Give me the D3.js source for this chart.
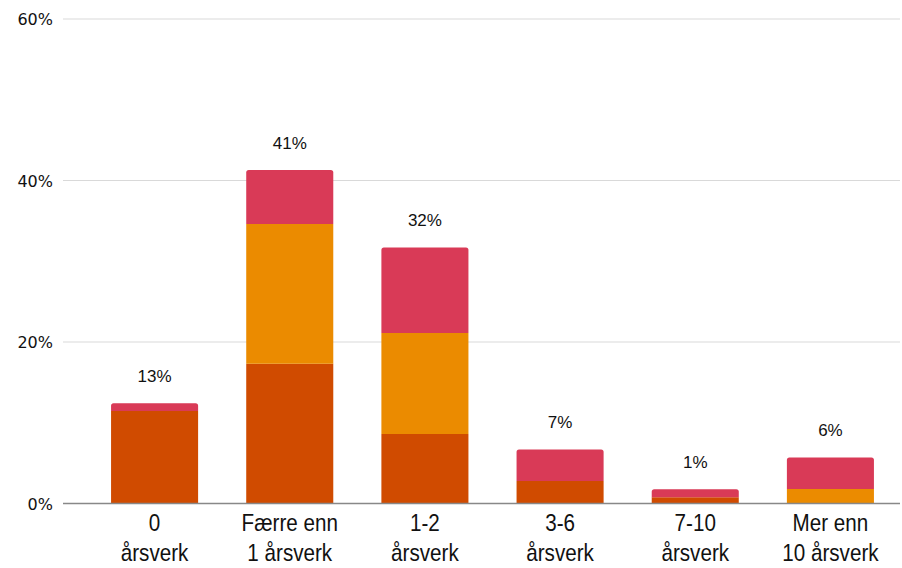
<!DOCTYPE html>
<html>
<head>
<meta charset="utf-8">
<script src="https://cdn.jsdelivr.net/npm/d3@7"></script>
<style>
  html, body { margin: 0; padding: 0; background: #fff; }
  svg { display: block; }
</style>
</head>
<body>
<svg id="chart" width="902" height="568"></svg>
<script>
// Categories (two-line axis labels)
const categories = [
  ["0", "årsverk"],
  ["Færre enn", "1 årsverk"],
  ["1-2", "årsverk"],
  ["3-6", "årsverk"],
  ["7-10", "årsverk"],
  ["Mer enn", "10 årsverk"]
];

// Stacked segments, in percent (bottom to top)
const seriesDark   = [11.45, 17.3, 8.6, 2.8, 0.77, 0];
const seriesOrange = [0,     17.3, 12.5, 0,  0,    1.8];
const seriesRed    = [0.95,  6.7,  10.6, 3.9, 0.99, 3.9];

// Total labels shown above each stack
const totalLabels = ["13%", "41%", "32%", "7%", "1%", "6%"];

// Y axis ticks
const yTicks = [0, 20, 40, 60];

const seriesList = [
  { key: "dark",   values: seriesDark,   color: "#d04b00" },
  { key: "orange", values: seriesOrange, color: "#eb8b00" },
  { key: "red",    values: seriesRed,    color: "#d93a57" }
];

const svg = d3.select("#chart");

const x = d3.scaleBand()
  .domain(d3.range(categories.length))
  .range([87, 898])
  .paddingInner(0.356)
  .paddingOuter(0.178);

const y = d3.scaleLinear().domain([0, 60]).range([503.5, 19]);

// Gridlines
svg.append("g")
  .selectAll("line")
  .data(yTicks.filter(d => d !== 0))
  .join("line")
  .attr("x1", 63).attr("x2", 900)
  .attr("y1", d => y(d)).attr("y2", d => y(d))
  .attr("stroke", "#d9d9d9")
  .attr("stroke-width", 1);

// Y tick labels
svg.append("g")
  .selectAll("text")
  .data(yTicks)
  .join("text")
  .attr("x", 53)
  .attr("y", d => y(d) + 6)
  .attr("text-anchor", "end")
  .attr("font-family", "'DejaVu Sans', sans-serif")
  .attr("font-size", 16)
  .attr("fill", "#111")
  .text(d => d + "%");

// Build stack data
const stackData = categories.map((c, i) => {
  const row = { i };
  seriesList.forEach(s => row[s.key] = s.values[i]);
  return row;
});
const stacked = d3.stack().keys(seriesList.map(s => s.key))(stackData);

// Index of the top-most non-empty segment per category
const topKey = stackData.map(row => {
  let k = null;
  seriesList.forEach(s => { if (row[s.key] > 0) k = s.key; });
  return k;
});

function segPath(d, rounded) {
  const x0 = x(d.data.i), w = x.bandwidth();
  const yTop = y(d[1]), yBot = y(d[0]);
  const h = yBot - yTop;
  const r = rounded ? Math.min(2.5, h / 2, w / 2) : 0;
  return `M${x0},${yBot}V${yTop + r}` +
    (r ? `Q${x0},${yTop} ${x0 + r},${yTop}` : "") +
    `H${x0 + w - r}` +
    (r ? `Q${x0 + w},${yTop} ${x0 + w},${yTop + r}` : "") +
    `V${yBot}Z`;
}

stacked.forEach((layer, li) => {
  svg.append("g")
    .selectAll("path")
    .data(layer.filter(d => d[1] - d[0] > 0))
    .join("path")
    .attr("fill", seriesList[li].color)
    .attr("d", d => segPath(d, topKey[d.data.i] === layer.key));
});

// Baseline
svg.append("line")
  .attr("x1", 63).attr("x2", 900)
  .attr("y1", y(0)).attr("y2", y(0))
  .attr("stroke", "#888")
  .attr("stroke-width", 1.5);

// Total labels
const totals = stackData.map(row => d3.sum(seriesList, s => row[s.key]));
svg.append("g")
  .selectAll("text")
  .data(totalLabels)
  .join("text")
  .attr("x", (d, i) => x(i) + x.bandwidth() / 2)
  .attr("y", (d, i) => y(totals[i]) - 21.5)
  .attr("text-anchor", "middle")
  .attr("font-family", "'Liberation Sans', Arial, sans-serif")
  .attr("font-size", 17)
  .attr("fill", "#111")
  .text(d => d);

// Category labels (horizontally condensed)
svg.append("g")
  .selectAll("g")
  .data(categories)
  .join("g")
  .attr("transform", (d, i) => `translate(${x(i) + x.bandwidth() / 2},0) scale(0.86,1)`)
  .each(function(lines) {
    const t = d3.select(this).append("text")
      .attr("text-anchor", "middle")
      .attr("font-family", "'Liberation Sans', Arial, sans-serif")
      .attr("font-size", 24)
      .attr("fill", "#111");
    lines.forEach((ln, k) => {
      t.append("tspan")
        .attr("x", 0)
        .attr("y", 531 + k * 30)
        .text(ln);
    });
  });
</script>
</body>
</html>
